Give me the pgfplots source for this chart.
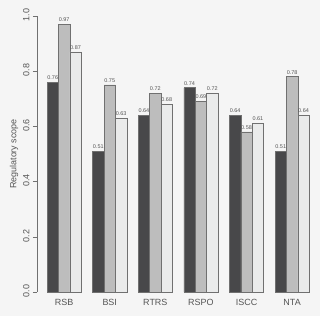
\documentclass[border=0pt]{standalone}
\usepackage{pgfplots}
\pgfplotsset{compat=1.18}
\usepackage{fontspec}
\setmainfont{Liberation Sans}
\definecolor{bg}{HTML}{F5F5F5}
\definecolor{cdark}{HTML}{48484A}
\definecolor{cmid}{HTML}{BDBDBD}
\definecolor{clight}{HTML}{EAEBEB}
\definecolor{edge}{HTML}{707070}
\definecolor{txt}{HTML}{555555}
\begin{document}
\begin{tikzpicture}[x=1bp,y=1bp]
\fill[bg] (0,0) rectangle (320,316);
\node[rotate=90, font=\fontsize{9}{10}\selectfont, text=txt] at (14,162) {Regulatory scope};
\begin{axis}[
  at={(37bp,24bp)}, anchor=south west,
  scale only axis,
  width=274.5bp, height=276bp,
  xmin=0.12, xmax=24.2,
  ymin=0, ymax=1,
  clip=false,
  axis x line=none,
  axis y line*=left,
  y axis line style={draw=edge, line width=0.5pt, -},
  ytick={0,0.2,0.4,0.6,0.8,1.0},
  yticklabel style={rotate=90, anchor=south, font=\fontsize{9}{10}\selectfont, text=txt, /pgf/number format/fixed, /pgf/number format/fixed zerofill, /pgf/number format/precision=1, xshift=1bp},
  /pgf/number format/assume math mode=true,
  ytick style={draw=edge, line width=0.5pt},
  tick align=outside,
  major tick length=4bp,
  ybar, bar width=1, bar shift=0pt,
  every axis plot/.append style={draw=edge, line width=0.6pt},
  nodes near coords,
  nodes near coords style={font=\fontsize{5.5}{6}\selectfont, text=txt, /pgf/number format/fixed, /pgf/number format/fixed zerofill, /pgf/number format/precision=2, yshift=-1bp},
]
\addplot[fill=cdark] coordinates {(1.5,0.76) (5.5,0.51) (9.5,0.64) (13.5,0.74) (17.5,0.64) (21.5,0.51)};
\addplot[fill=cmid] coordinates {(2.5,0.97) (6.5,0.75) (10.5,0.72) (14.5,0.69) (18.5,0.58) (22.5,0.78)};
\addplot[fill=clight] coordinates {(3.5,0.87) (7.5,0.63) (11.5,0.68) (15.5,0.72) (19.5,0.61) (23.5,0.64)};
\foreach \lab [count=\i from 0] in {RSB,BSI,RTRS,RSPO,ISCC,NTA} {
  \edef\temp{\noexpand\node[font=\noexpand\fontsize{9}{10}\noexpand\selectfont, text=txt, anchor=north] at (axis cs:{2.5+4*\i},0) [yshift=-4bp] {\lab};}
  \temp
}
\end{axis}
\end{tikzpicture}
\end{document}
